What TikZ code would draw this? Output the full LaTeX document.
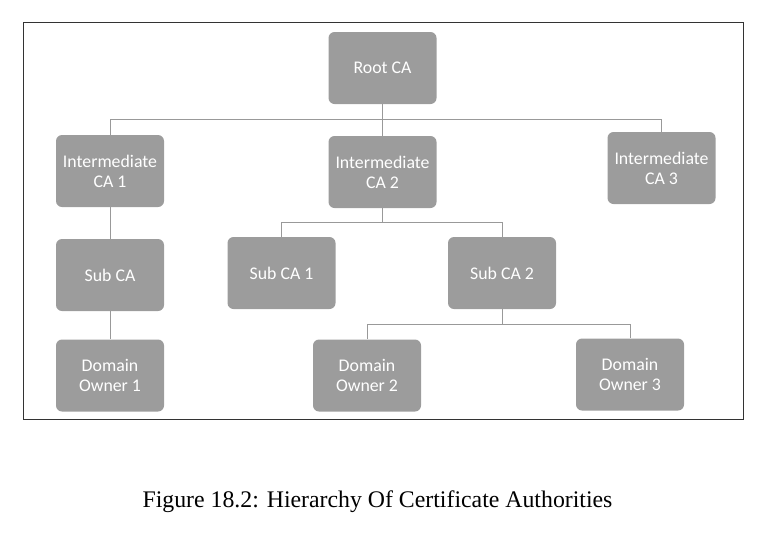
\documentclass[tikz,border=0pt]{standalone}
\usepackage{fontspec}
\setmainfont{Liberation Serif}
\newfontfamily\boxfont{Carlito}
\usetikzlibrary{calc}

\begin{document}
\begin{tikzpicture}[x=1pt, y=-1pt,
    ca/.style={rectangle, rounded corners=6pt, fill=black!39, text=white,
      minimum width=108pt, minimum height=72pt, align=center, inner sep=2pt,
      font=\boxfont\fontsize{17.8}{20}\selectfont},
    link/.style={draw=black!40, line width=0.6pt},
    frame/.style={draw=black!80, line width=1pt}]
  \useasboundingbox (0,0) rectangle (784,536);
  \draw[frame] (23,22) rectangle (743,419);
  % top level
  \node[ca] (root) at (382.5,68) {Root CA};
  \node[ca] (ica1) at (110,171) {Intermediate\\CA 1};
  \node[ca] (ica2) at (382.5,172) {Intermediate\\CA 2};
  \node[ca] (ica3) at (661.5,168) {Intermediate\\CA 3};
  % sub CAs
  \node[ca] (subca) at (110,275) {Sub CA};
  \node[ca] (sub1) at (281.5,273) {Sub CA 1};
  \node[ca] (sub2) at (502,273) {Sub CA 2};
  % domain owners
  \node[ca] (dom1) at (110,375.5) {Domain\\Owner 1};
  \node[ca] (dom2) at (367,375.5) {Domain\\Owner 2};
  \node[ca] (dom3) at (630,374.5) {Domain\\Owner 3};

  \draw[link] (root.south) -- ++(0,15) -| (ica1.north);
  \draw[link] (root.south) -- ++(0,15) -| (ica3.north);
  \draw[link] (root.south) -- (ica2.north);
  \draw[link] (ica1.south) -- (subca.north);
  \draw[link] (subca.south) -- (dom1.north);
  \draw[link] (ica2.south) -- ++(0,14) -| (sub1.north);
  \draw[link] (ica2.south) -- ++(0,14) -| (sub2.north);
  \draw[link] (sub2.south) -- ++(0,15) -| (dom2.north);
  \draw[link] (sub2.south) -- ++(0,15) -| (dom3.north);

  \node[font=\fontsize{23.8}{26}\selectfont, anchor=base] (caption) at (377.5,507)
    {Figure 18.2: Hierarchy Of Certificate Authorities};
\end{tikzpicture}
\end{document}
